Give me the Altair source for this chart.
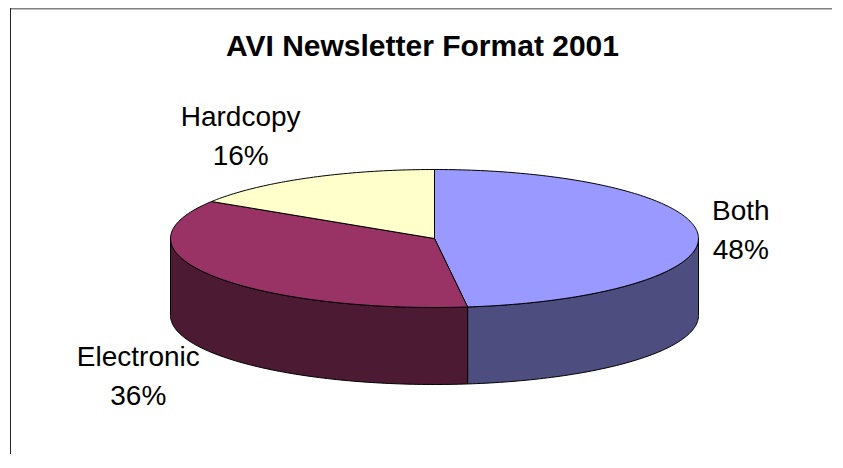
import math
import numpy as np
import pandas as pd
import altair as alt

# ---- data ----
categories = ["Both", "Electronic", "Hardcopy"]
values = [48, 36, 16]
top_colors = ["#9999FF", "#993366", "#FFFFCC"]
side_colors = ["#4D4D80", "#4D1A33", "#808066"]
TITLE = "AVI Newsletter Format 2001"

# ---- layout / geometry (page pixel units via the scales) ----
W, H = 827, 446
CX, CY = 434.5, 238.5      # centre of the pie's top ellipse
RX, RY = 264.0, 69.0       # radii of the top ellipse
DEPTH = 77.0               # thickness of the pie
START = -90.0              # first slice starts at 12 o'clock, clockwise
GAP_X, GAP_Y = 14.0, 46.0  # label distance from the rim
FONT = "Liberation Sans"
LABEL_SIZE, LINE_H = 28, 39

# Arial / Liberation Sans advance widths (per 1000 em) to centre label blocks
ADV = {"H": 722, "a": 556, "r": 333, "d": 556, "c": 500, "o": 556, "p": 556,
       "y": 500, "E": 667, "l": 222, "e": 556, "t": 278, "n": 556, "i": 222,
       "B": 667, "h": 556, "%": 889}


def text_width(s):
    return sum(ADV.get(ch, 556) for ch in s) * LABEL_SIZE / 1000.0


total = float(sum(values))
bounds = [START]
for v in values:
    bounds.append(bounds[-1] + 360.0 * v / total)


def rim(t_deg, drop=0.0):
    t = math.radians(t_deg)
    return CX + RX * math.cos(t), CY + RY * math.sin(t) + drop


def arc(t1, t2, drop=0.0):
    n = max(2, int(abs(t2 - t1)) + 1)
    return [rim(t, drop) for t in np.linspace(t1, t2, n)]


top_rows, side_rows, label_rows = [], [], []
for k, (cat, val) in enumerate(zip(categories, values)):
    t1, t2 = bounds[k], bounds[k + 1]
    # top face
    pts = [(CX, CY)] + arc(t1, t2) + [(CX, CY)]
    for i, (x, y) in enumerate(pts):
        top_rows.append({"poly": f"top_{cat}", "i": i, "x": x, "y": y, "fill": top_colors[k]})
    # visible front wall (0..180 degrees is the near half)
    s1, s2 = max(t1, 0.0), min(t2, 180.0)
    if s2 > s1:
        pts = arc(s1, s2) + arc(s2, s1, DEPTH)
        pts.append(pts[0])
        for i, (x, y) in enumerate(pts):
            side_rows.append({"poly": f"side_{cat}", "i": i, "x": x, "y": y, "fill": side_colors[k]})
    # label: block placed outside the rim, lines centred within the block
    lines = [cat, f"{val:g}%"]
    half_w = max(text_width(s) for s in lines) / 2.0
    mid = math.radians((t1 + t2) / 2.0)
    c, s = math.cos(mid), math.sin(mid)
    lx = CX + (RX + GAP_X) * c + (-half_w if c < 0 else half_w)
    ly = CY + (RY + GAP_Y) * s + (DEPTH if s > 0 else 0.0) - LINE_H * (len(lines) - 1) / 2.0
    label_rows.append({"label": "\n".join(lines), "x": lx, "y": ly})

tops = pd.DataFrame(top_rows)
sides = pd.DataFrame(side_rows)
labels = pd.DataFrame(label_rows)

# chart-area border: only its top and left edges fall inside the crop
frame_top_df = pd.DataFrame({"i": [0, 1], "x": [10.0, 8.0 + W - 3], "y": [8.75, 8.75]})
frame_left_df = pd.DataFrame({"i": [0, 1], "x": [10.5, 10.5], "y": [8.0, 8.0 + H]})

xs = alt.Scale(domain=[8, 8 + W], nice=False, zero=False)
ys = alt.Scale(domain=[8, 8 + H], nice=False, zero=False, reverse=True)


def faces(df):
    return alt.Chart(df).mark_line(strokeWidth=1, interpolate="linear", strokeJoin="round").encode(
        x=alt.X("x:Q", scale=xs, axis=None),
        y=alt.Y("y:Q", scale=ys, axis=None),
        fill=alt.Fill("fill:N", scale=None, legend=None),
        stroke=alt.value("#000000"),
        detail="poly:N",
        order=alt.Order("i:Q"),
    )


def edge(df, color, width):
    return alt.Chart(df).mark_line(strokeWidth=width, color=color).encode(
        x=alt.X("x:Q", scale=xs, axis=None),
        y=alt.Y("y:Q", scale=ys, axis=None),
        order=alt.Order("i:Q"),
    )


label_layer = alt.Chart(labels).mark_text(
    font=FONT, fontSize=LABEL_SIZE, lineHeight=LINE_H, lineBreak="\n",
    align="center", baseline="middle", color="#000000"
).encode(
    x=alt.X("x:Q", scale=xs, axis=None),
    y=alt.Y("y:Q", scale=ys, axis=None),
    text="label:N",
)

one = pd.DataFrame({"t": [TITLE]})
title = alt.Chart(one).mark_text(
    font=FONT, fontSize=30, fontWeight="bold", align="center",
    baseline="alphabetic", color="#000000"
).encode(x=alt.value(414.5), y=alt.value(48), text="t:N")

chart = alt.layer(
    edge(frame_top_df, "#808080", 1.5), edge(frame_left_df, "#262626", 1),
    faces(sides), faces(tops), label_layer, title
).properties(
    width=W, height=H, padding=0, autosize="none", background="white"
).configure_view(stroke=None)

chart.save("out.html", embed_options={"renderer": "svg", "actions": False})
